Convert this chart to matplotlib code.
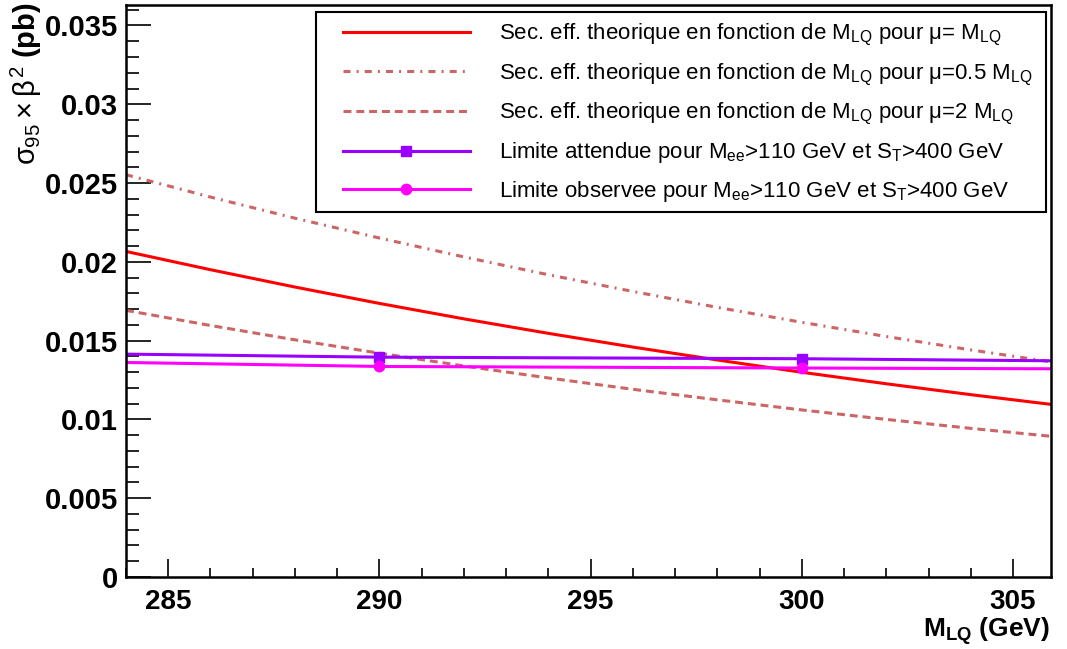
import numpy as np
import matplotlib
matplotlib.use('Agg')
import matplotlib.pyplot as plt
from matplotlib.ticker import MultipleLocator
from matplotlib.patches import Rectangle

plt.rcParams['font.family'] = ['Liberation Sans', 'DejaVu Sans']
plt.rcParams['mathtext.fontset'] = 'custom'
plt.rcParams['mathtext.rm'] = 'Liberation Sans'
plt.rcParams['mathtext.it'] = 'Liberation Sans'
plt.rcParams['mathtext.bf'] = 'Liberation Sans:bold'

# theory curves, every 2 GeV
m_theo = [284, 286, 288, 290, 292, 294, 296, 298, 300, 302, 304, 306]
xs_mu1 = [0.02066, 0.01950, 0.01840, 0.01736, 0.01638, 0.01546,
          0.01459, 0.01377, 0.01299, 0.01226, 0.01157, 0.01092]
xs_mu05 = [0.02553, 0.02411, 0.02277, 0.02151, 0.02031, 0.01918,
           0.01812, 0.01711, 0.01616, 0.01526, 0.01441, 0.01361]
xs_mu2 = [0.01692, 0.01596, 0.01505, 0.01420, 0.01339, 0.01263,
          0.01191, 0.01124, 0.01060, 0.01000, 0.00943, 0.00890]

# limits
m_lim = [280, 290, 300, 310]
lim_exp = [0.01427, 0.01395, 0.01385, 0.01363]
lim_obs = [0.01378, 0.01336, 0.01326, 0.01318]

W, H = 1067, 649
fig = plt.figure(figsize=(W / 100, H / 100), dpi=100)
ax = fig.add_axes([0.1181, 0.111, 0.867, 0.8813])

red_light = '#cc6666'
ax.plot(m_theo, xs_mu1, color='red', lw=2.2,
        label=r'Sec. eff. theorique en fonction de M$_{\rm LQ}$ pour $\mu$= M$_{\rm LQ}$')
ax.plot(m_theo, xs_mu05, color=red_light, lw=2.2, dashes=(2.3, 2.0, 0.65, 2.0),
        label=r'Sec. eff. theorique en fonction de M$_{\rm LQ}$ pour $\mu$=0.5 M$_{\rm LQ}$')
ax.plot(m_theo, xs_mu2, color=red_light, lw=2.2, dashes=(2.6, 1.6),
        label=r'Sec. eff. theorique en fonction de M$_{\rm LQ}$ pour $\mu$=2 M$_{\rm LQ}$')
ax.plot(m_lim, lim_exp, color='#9900ff', lw=2.2, marker='s', ms=7.5,
        label=r'Limite attendue pour M$_{\rm ee}$>110 GeV et S$_{\rm T}$>400 GeV')
ax.plot(m_lim, lim_obs, color='#ff00ff', lw=2.2, marker='o', ms=7.5,
        label=r'Limite observee pour M$_{\rm ee}$>110 GeV et S$_{\rm T}$>400 GeV')

ax.set_xlim(284, 305.9)
ax.set_ylim(0, 0.0363)

ax.xaxis.set_major_locator(MultipleLocator(5))
ax.xaxis.set_minor_locator(MultipleLocator(1))
ax.yaxis.set_major_locator(MultipleLocator(0.005))
ax.yaxis.set_minor_locator(MultipleLocator(0.001))
ax.tick_params(which='both', direction='in', top=False, right=False, width=1.2, color='black')
ax.tick_params(axis='y', which='major', length=18, pad=6)
ax.tick_params(axis='y', which='minor', length=9)
ax.tick_params(axis='x', which='major', length=13, pad=9)
ax.tick_params(axis='x', which='minor', length=6.5)
ax.set_yticks([0, 0.005, 0.01, 0.015, 0.02, 0.025, 0.03, 0.035])
ax.set_yticklabels(['0', '0.005', '0.01', '0.015', '0.02', '0.025', '0.03', '0.035'])
for lab in ax.get_yticklabels():
    lab.set_fontsize(21)
    lab.set_fontweight('bold')
for lab in ax.get_xticklabels():
    lab.set_fontsize(20)
    lab.set_fontweight('bold')
for s in ax.spines.values():
    s.set_linewidth(1.8)

fig.text(0.984, 1 - 637 / H, r'M$_{\rm \bf LQ}$ (GeV)', ha='right', va='baseline',
         fontsize=19, fontweight='bold')
fig.text(0.025, 1 - 2 / H, r'$\sigma_{95}\times\beta^{2}$ (pb)', ha='center', va='top',
         rotation=90, fontsize=21, fontweight='bold')

# legend: frame drawn separately so the padding matches the original
ax.add_patch(Rectangle((316 / W, 1 - 212 / H), 730 / W, 200 / H,
                       transform=fig.transFigure, facecolor='white',
                       edgecolor='black', lw=1.5, zorder=5, clip_on=False))
leg = ax.legend(loc='upper left', bbox_to_anchor=(343 / W, 1 - 22 / H),
                bbox_transform=fig.transFigure, fontsize=16, frameon=False,
                handlelength=5.7, handletextpad=1.3, labelspacing=0.6,
                borderpad=0, borderaxespad=0, markerscale=1)
leg.set_zorder(6)

fig.savefig('out.png', dpi=100)
